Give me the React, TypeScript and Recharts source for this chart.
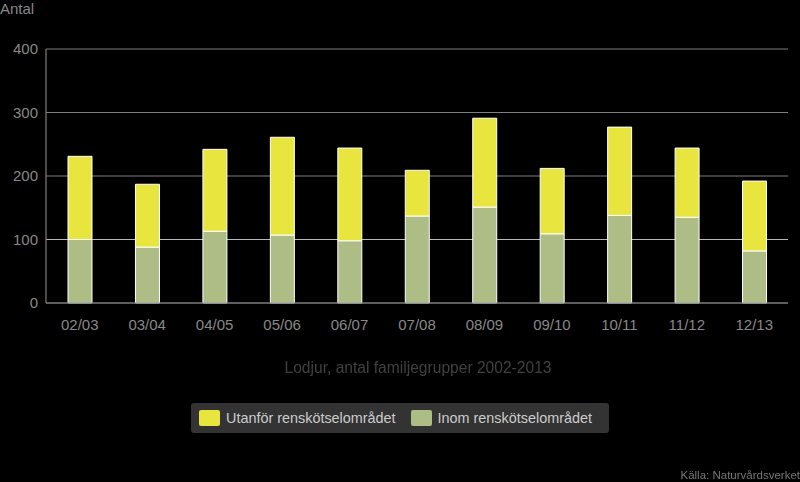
import { BarChart, Bar, XAxis, YAxis, CartesianGrid } from 'recharts'

const seasons = ['02/03', '03/04', '04/05', '05/06', '06/07', '07/08', '08/09', '09/10', '10/11', '11/12', '12/13']
const inom = [100, 88, 113, 107, 98, 137, 151, 109, 138, 135, 82]
const utanfor = [131, 99, 129, 154, 146, 72, 140, 103, 139, 109, 110]
const yTicks = [0, 100, 200, 300, 400]

const data = seasons.map((s, i) => ({ season: s, inom: inom[i], utanfor: utanfor[i] }))

const FONT = '"Liberation Sans", Arial, sans-serif'
const YELLOW = '#e8e63e'
const GREEN = '#aebd85'

const gridLine = (p: any) => (
  <line key={p.key} x1={p.x1} y1={p.y1} x2={p.x2} y2={p.y2}
    stroke={p.index === 1 ? '#b8b8b8' : '#7f7f7f'} strokeWidth={1.2}/>
)

export default function App() {
  return (
    <div style={{ position: 'fixed', left: 0, top: 0, width: 800, height: 482, background: '#000', fontFamily: FONT }}>
      <div style={{ position: 'absolute', left: 0, top: 0, fontSize: 15, color: '#888' }}>Antal</div>
      <BarChart width={800} height={482} data={data} barSize={24}
        margin={{ top: 49, right: 12, left: 0, bottom: 149 }}>
        <CartesianGrid vertical={false} horizontal={gridLine}/>
        <XAxis dataKey="season" tickLine={false} axisLine={{ stroke: '#7f7f7f', strokeWidth: 1.2 }}
          tick={{ fontSize: 15, fill: '#888', fontFamily: FONT }} tickMargin={10} height={30}/>
        <YAxis domain={[0, 400]} ticks={yTicks} width={46} tickLine={false}
          axisLine={{ stroke: '#7f7f7f', strokeWidth: 1.2 }}
          tick={{ fontSize: 15, fill: '#888', fontFamily: FONT }}/>
        <Bar dataKey="inom" stackId="a" fill={GREEN} stroke="#fff" strokeWidth={1} isAnimationActive={false}/>
        <Bar dataKey="utanfor" stackId="a" fill={YELLOW} stroke="#fff" strokeWidth={1} isAnimationActive={false}/>
      </BarChart>
      <div style={{ position: 'absolute', left: 0, width: 836, top: 359, textAlign: 'center', fontSize: 15.6, color: '#404040' }}>
        Lodjur, antal familjegrupper 2002-2013
      </div>
      <div style={{ position: 'absolute', left: 191, top: 403, width: 418, height: 30, background: '#333', borderRadius: 3,
        display: 'flex', alignItems: 'center', fontSize: 14.4, color: '#ccc' }}>
        <span style={{ display: 'inline-block', width: 21, height: 16, background: YELLOW, borderRadius: 2, marginLeft: 8, marginRight: 6 }}/>
        <span>Utanför renskötselområdet</span>
        <span style={{ display: 'inline-block', width: 21, height: 16, background: GREEN, borderRadius: 2, marginLeft: 15, marginRight: 6 }}/>
        <span>Inom renskötselområdet</span>
      </div>
      <div style={{ position: 'absolute', right: 0, top: 469, fontSize: 11.5, color: '#777' }}>Källa: Naturvårdsverket</div>
    </div>
  )
}
